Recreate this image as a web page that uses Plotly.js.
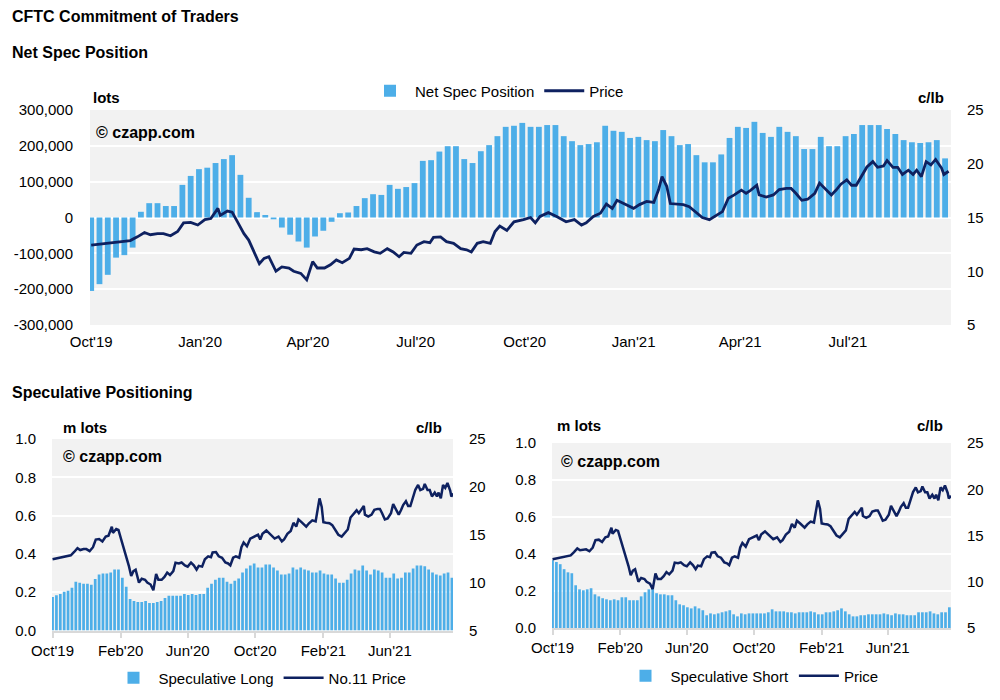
<!DOCTYPE html>
<html>
<head>
<meta charset="utf-8">
<script src="https://cdn.plot.ly/plotly-3.0.1.min.js"></script>
<style>html,body{margin:0;padding:0;background:#fff;}#chart{width:1000px;height:700px;}</style>
</head>
<body>
<div id="chart"></div>
<script>
// Weekly CFTC report dates (Tuesdays)
const weekDates = [
"2019-10-01","2019-10-08","2019-10-15","2019-10-22","2019-10-29","2019-11-05","2019-11-12","2019-11-19","2019-11-26",
"2019-12-03","2019-12-10","2019-12-17","2019-12-24","2019-12-31",
"2020-01-07","2020-01-14","2020-01-21","2020-01-28","2020-02-04","2020-02-11","2020-02-18","2020-02-25",
"2020-03-03","2020-03-10","2020-03-17","2020-03-24","2020-03-31","2020-04-07","2020-04-14","2020-04-21","2020-04-28",
"2020-05-05","2020-05-12","2020-05-19","2020-05-26","2020-06-02","2020-06-09","2020-06-16","2020-06-23","2020-06-30",
"2020-07-07","2020-07-14","2020-07-21","2020-07-28","2020-08-04","2020-08-11","2020-08-18","2020-08-25",
"2020-09-01","2020-09-08","2020-09-15","2020-09-22","2020-09-29","2020-10-06","2020-10-13","2020-10-20","2020-10-27",
"2020-11-03","2020-11-10","2020-11-17","2020-11-24","2020-12-01","2020-12-08","2020-12-15","2020-12-22","2020-12-29",
"2021-01-05","2021-01-12","2021-01-19","2021-01-26","2021-02-02","2021-02-09","2021-02-16","2021-02-23",
"2021-03-02","2021-03-09","2021-03-16","2021-03-23","2021-03-30","2021-04-06","2021-04-13","2021-04-20","2021-04-27",
"2021-05-04","2021-05-11","2021-05-18","2021-05-25","2021-06-01","2021-06-08","2021-06-15","2021-06-22","2021-06-29",
"2021-07-06","2021-07-13","2021-07-20","2021-07-27","2021-08-03","2021-08-10","2021-08-17","2021-08-24","2021-08-31",
"2021-09-07","2021-09-14","2021-09-21"];

// Net speculative position (lots)
const netSpec = [
-205000,-186000,-160000,-112000,-105000,-84000,16000,40000,40000,32000,32000,91000,116000,135000,
139000,152000,163000,174000,119000,55000,15000,7000,-5000,-28000,-48000,-67000,-84000,-53000,-37000,-12000,
12000,14000,32000,54000,65000,63000,91000,80000,85000,96000,158000,160000,184000,199000,199000,163000,152000,
185000,202000,227000,253000,256000,264000,253000,253000,258000,258000,227000,213000,202000,205000,210000,
256000,242000,239000,222000,225000,216000,213000,244000,227000,202000,205000,174000,154000,154000,176000,
222000,253000,250000,267000,236000,225000,253000,239000,227000,191000,191000,225000,199000,199000,227000,
233000,258000,258000,258000,247000,233000,216000,210000,208000,210000,216000,165000];

// Speculative long (million lots)
const specLong = [
0.175,0.184,0.191,0.202,0.207,0.223,0.255,0.250,0.244,0.244,0.239,0.269,0.292,0.297,0.297,0.303,0.319,0.319,
0.276,0.228,0.165,0.154,0.149,0.149,0.154,0.143,0.143,0.149,0.154,0.170,0.181,0.181,0.181,0.181,0.191,0.186,
0.191,0.186,0.191,0.191,0.223,0.244,0.265,0.276,0.276,0.255,0.244,0.260,0.271,0.303,0.324,0.340,
0.350,0.329,0.329,0.345,0.345,0.329,0.313,0.292,0.292,0.297,0.329,0.319,0.329,0.319,0.313,0.303,0.303,0.313,
0.297,0.292,0.292,0.271,0.250,0.250,0.265,0.297,0.319,0.313,0.340,0.313,0.292,0.319,0.313,0.303,0.276,0.276,
0.297,0.271,0.276,0.303,0.303,0.324,0.340,0.340,0.335,0.319,0.303,0.292,0.287,0.297,0.303,0.276];

// Speculative short (million lots)
const specShort = [
0.366,0.357,0.345,0.318,0.301,0.296,0.231,0.209,0.204,0.209,0.215,0.182,0.171,0.161,0.155,0.150,0.155,0.150,
0.166,0.166,0.150,0.150,0.150,0.171,0.193,0.209,0.210,0.188,0.182,0.182,0.177,0.177,0.150,0.128,0.123,0.112,
0.106,0.117,0.106,0.096,0.069,0.079,0.074,0.079,0.085,0.090,0.096,0.074,0.063,0.079,0.074,0.079,
0.079,0.079,0.079,0.079,0.085,0.101,0.090,0.090,0.090,0.085,0.085,0.079,0.085,0.085,0.085,0.090,0.085,0.074,
0.074,0.085,0.085,0.090,0.096,0.106,0.090,0.074,0.063,0.063,0.069,0.069,0.074,0.074,0.074,0.074,0.079,0.074,
0.069,0.079,0.074,0.074,0.069,0.069,0.069,0.085,0.085,0.085,0.090,0.079,0.074,0.085,0.085,0.112];

// No.11 raw sugar price (c/lb)
const priceDates = [
"2019-10-01","2019-10-09","2019-10-18","2019-10-26","2019-11-03","2019-11-09","2019-11-15","2019-11-20","2019-11-26",
"2019-12-01","2019-12-07","2019-12-13","2019-12-18","2019-12-24","2019-12-30","2020-01-05","2020-01-10","2020-01-16",
"2020-01-18","2020-01-24","2020-01-28","2020-02-02","2020-02-07","2020-02-11","2020-02-16","2020-02-20","2020-02-24",
"2020-02-28","2020-03-05","2020-03-10","2020-03-16","2020-03-20","2020-03-26","2020-03-31","2020-04-05","2020-04-09",
"2020-04-15","2020-04-20","2020-04-25","2020-04-30","2020-05-06","2020-05-10","2020-05-16","2020-05-21","2020-05-27",
"2020-06-01","2020-06-07","2020-06-12","2020-06-17","2020-06-21","2020-06-27","2020-07-02","2020-07-08","2020-07-13",
"2020-07-16","2020-07-22","2020-07-27","2020-08-02","2020-08-08","2020-08-13","2020-08-17","2020-08-22","2020-08-27",
"2020-09-02","2020-09-06","2020-09-10","2020-09-16","2020-09-22","2020-09-30","2020-10-06","2020-10-10","2020-10-14",
"2020-10-21","2020-10-28","2020-11-05","2020-11-12","2020-11-18","2020-11-22","2020-11-28","2020-12-04","2020-12-09",
"2020-12-14","2020-12-18","2020-12-24","2021-01-01","2021-01-06","2021-01-12","2021-01-18","2021-01-22","2021-01-25",
"2021-01-29","2021-02-01","2021-02-06","2021-02-12","2021-02-17","2021-02-23","2021-02-28","2021-03-06","2021-03-12",
"2021-03-17","2021-03-22","2021-03-27","2021-04-02","2021-04-06","2021-04-10","2021-04-15","2021-04-17","2021-04-23",
"2021-04-29","2021-05-04","2021-05-10","2021-05-14","2021-05-18","2021-05-23","2021-05-28","2021-06-03","2021-06-07",
"2021-06-13","2021-06-17","2021-06-21","2021-06-25","2021-06-30","2021-07-04","2021-07-08","2021-07-11","2021-07-17",
"2021-07-22","2021-07-26","2021-07-31","2021-08-03","2021-08-08","2021-08-12","2021-08-16","2021-08-21","2021-08-25",
"2021-08-28","2021-09-01","2021-09-05","2021-09-09","2021-09-13","2021-09-18","2021-09-20","2021-09-24"];
const price = [
12.44,12.53,12.66,12.69,12.85,13.2,13.6,13.4,13.5,
13.5,13.3,13.7,14.5,14.55,14.3,14.8,14.9,15.85,
15.2,15.6,15.5,14.5,13.5,12.9,11.7,10.7,11.2,
11.35,10.0,10.4,10.3,10.0,9.8,9.2,10.9,10.3,
10.3,10.6,11.05,10.8,11.2,12.07,12.0,12.1,11.8,
11.67,12.1,11.8,11.35,11.75,11.67,12.44,12.75,12.66,
13.15,13.2,12.75,12.6,12.1,12.0,11.8,12.6,12.75,
12.6,13.7,14.2,13.8,14.6,14.8,15.0,14.5,15.1,
15.45,15.1,14.6,14.8,14.3,14.5,15.1,15.4,16.25,
15.85,16.6,16.3,15.85,16.2,16.5,16.4,17.55,18.8,
17.9,16.3,16.25,16.2,16.0,15.45,15.0,14.8,15.2,
15.55,16.8,17.1,17.55,17.25,17.55,18.0,17.1,16.9,
17.1,17.6,17.7,17.7,17.25,16.6,16.7,17.25,18.2,
17.55,17.1,17.55,18.1,18.5,18.0,18.0,18.6,19.7,
20.2,19.67,19.8,20.3,19.67,19.67,19.0,19.4,19.0,
19.4,18.8,20.2,19.9,20.4,19.6,19.0,19.3];

// Tick labels
const netTickVals = [-300000,-200000,-100000,0,100000,200000,300000];
const netTickText = ["-300,000","-200,000","-100,000","0","100,000","200,000","300,000"];

const BAR = "#4DAEE8";
const LINE = "#0E2160";
const FONT = "Liberation Sans, Arial, Helvetica, sans-serif";
const W = 1000, H = 700;
const px = v => v / W;
const py = v => (H - v) / H;

const traces = [
  {type:"bar", x:weekDates, y:netSpec, name:"Net Spec Position", marker:{color:BAR}, xaxis:"x", yaxis:"y", legend:"legend"},
  {type:"scatter", mode:"lines", x:priceDates, y:price, name:"Price", line:{color:LINE, width:2.8}, xaxis:"x", yaxis:"y2", legend:"legend"},
  {type:"bar", x:weekDates, y:specLong, name:"Speculative Long", marker:{color:BAR}, xaxis:"x2", yaxis:"y3", legend:"legend2"},
  {type:"scatter", mode:"lines", x:priceDates, y:price, name:"No.11 Price", line:{color:LINE, width:2.5}, xaxis:"x2", yaxis:"y4", legend:"legend2"},
  {type:"bar", x:weekDates, y:specShort, name:"Speculative Short", marker:{color:BAR}, xaxis:"x3", yaxis:"y5", legend:"legend3"},
  {type:"scatter", mode:"lines", x:priceDates, y:price, name:"Price", line:{color:LINE, width:2.5}, xaxis:"x3", yaxis:"y6", legend:"legend3"}
];

const tickFont = {family:FONT, size:15, color:"#000"};
const grid = {showgrid:true, gridcolor:"#ffffff", gridwidth:2, zeroline:false};

const bottomX = {
  type:"date", tick0:"2019-10-01", dtick:"M4", tickformat:"%b'%y", tickfont:tickFont,
  showgrid:false, showline:true, linecolor:"#d9d9d9", linewidth:2,
  ticks:"outside", ticklen:5, tickwidth:2, tickcolor:"#d9d9d9", zeroline:false, fixedrange:true
};

const legendBase = {orientation:"h", xanchor:"center", yanchor:"middle", font:{family:FONT, size:15, color:"#000"},
  bgcolor:"rgba(0,0,0,0)", itemwidth:40, traceorder:"normal"};

function ann(text, x, y, anchor, size){
  return {text:text, xref:"paper", yref:"paper", x:px(x), y:py(y), xanchor:anchor, yanchor:"middle",
    showarrow:false, font:{family:FONT, size:size, color:"#000"}};
}

const layout = {
  width:W, height:H, margin:{l:0,r:0,t:0,b:0},
  paper_bgcolor:"#ffffff", plot_bgcolor:"#f2f2f2",
  font:{family:FONT, size:15, color:"#000"},
  bargap:0.3, showlegend:true, hovermode:false,
  xaxis:{domain:[px(90), px(951)], anchor:"y", type:"date", range:["2019-09-30","2021-09-26"],
    tick0:"2019-10-01", dtick:"M3", tickformat:"%b'%y", tickfont:tickFont, showgrid:false, zeroline:false,
    ticks:"outside", ticklen:3, tickcolor:"rgba(0,0,0,0)", showline:false},
  yaxis:Object.assign({domain:[py(325), py(110)], anchor:"x", range:[-300000,300000],
    tickvals:netTickVals, ticktext:netTickText, tickfont:tickFont, ticks:"outside", ticklen:13, tickcolor:"rgba(0,0,0,0)"}, grid),
  yaxis2:{overlaying:"y", side:"right", anchor:"x", range:[5,25], dtick:5, tickfont:tickFont, showgrid:false, zeroline:false,
    ticks:"outside", ticklen:12, tickcolor:"rgba(0,0,0,0)"},

  xaxis2:Object.assign({}, bottomX, {domain:[px(52), px(453)], anchor:"y3", range:["2019-09-30","2021-09-23"]}),
  yaxis3:Object.assign({domain:[py(630.5), py(439)], anchor:"x2", range:[0,1], dtick:0.2, tickformat:".1f",
    tickfont:tickFont, ticks:"outside", ticklen:12, tickcolor:"rgba(0,0,0,0)"}, grid),
  yaxis4:{overlaying:"y3", side:"right", anchor:"x2", range:[5,25], dtick:5, tickfont:tickFont, showgrid:false, zeroline:false,
    ticks:"outside", ticklen:12, tickcolor:"rgba(0,0,0,0)"},

  xaxis3:Object.assign({}, bottomX, {domain:[px(552), px(951)], anchor:"y5", range:["2019-09-30","2021-09-24"]}),
  yaxis5:Object.assign({domain:[py(628), py(443)], anchor:"x3", range:[0,1], dtick:0.2, tickformat:".1f",
    tickfont:tickFont, ticks:"outside", ticklen:12, tickcolor:"rgba(0,0,0,0)"}, grid),
  yaxis6:{overlaying:"y5", side:"right", anchor:"x3", range:[5,25], dtick:5, tickfont:tickFont, showgrid:false, zeroline:false,
    ticks:"outside", ticklen:12, tickcolor:"rgba(0,0,0,0)"},

  legend:Object.assign({}, legendBase, {x:px(497), y:py(91)}),
  legend2:Object.assign({}, legendBase, {x:px(260), y:py(678)}),
  legend3:Object.assign({}, legendBase, {x:px(752), y:py(676)}),

  annotations:[
    ann("<b>CFTC Commitment of Traders</b>", 10, 17, "left", 16),
    ann("<b>Net Spec Position</b>", 10, 52, "left", 16),
    ann("<b>Speculative Positioning</b>", 10, 392, "left", 16),
    ann("<b>lots</b>", 91, 97, "left", 15),
    ann("<b>c/lb</b>", 946, 97, "right", 15),
    ann("<b>© czapp.com</b>", 94, 132, "left", 16),
    ann("<b>m lots</b>", 61, 427, "left", 15),
    ann("<b>c/lb</b>", 444, 427, "right", 15),
    ann("<b>© czapp.com</b>", 61, 457, "left", 16),
    ann("<b>m lots</b>", 555, 425, "left", 15),
    ann("<b>c/lb</b>", 945, 425, "right", 15),
    ann("<b>© czapp.com</b>", 559, 461, "left", 16)
  ]
};

Plotly.newPlot("chart", traces, layout, {staticPlot:true, displayModeBar:false});
</script>
</body>
</html>
